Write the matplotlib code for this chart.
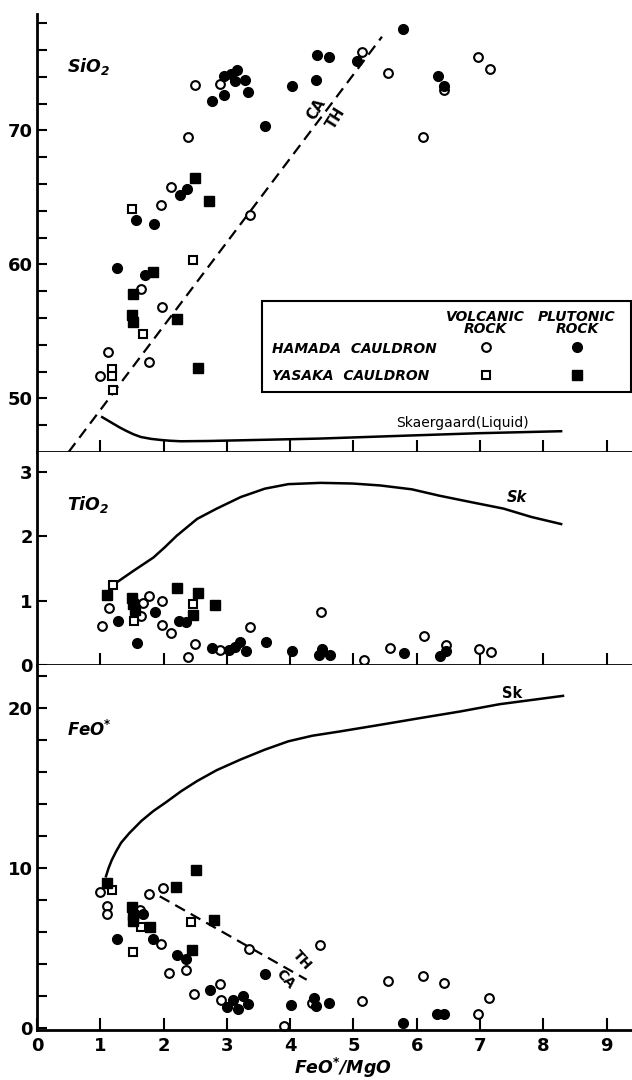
import matplotlib.pyplot as plt
from matplotlib.patches import Rectangle

plt.rcParams['font.family'] = ['DejaVu Sans']
plt.rcParams['font.weight'] = 'bold'
plt.rcParams['mathtext.default'] = 'regular'

# ---- SiO2 vs FeO*/MgO ----
sio2_hv_x = [2.50, 2.89, 2.39, 5.13, 5.55, 6.10, 6.43, 6.97, 7.15, 2.12, 1.96, 3.37,
             1.64, 1.98, 1.12, 1.77, 1.00]
sio2_hv_y = [73.4, 73.5, 69.5, 75.85, 74.3, 69.5, 73.0, 75.5, 74.6, 65.8, 64.4, 63.7,
             58.15, 56.8, 53.45, 52.75, 51.7]
sio2_hp_x = [5.79, 4.42, 4.61, 5.05, 4.41, 4.03, 3.61, 2.95, 3.06, 3.16, 3.13, 3.29,
             3.33, 2.96, 2.76, 6.33, 6.43, 2.37, 2.26, 1.56, 1.85, 1.27, 1.70]
sio2_hp_y = [77.55, 75.6, 75.5, 75.15, 73.8, 73.3, 70.3, 74.1, 74.2, 74.55, 73.7, 73.8,
             72.9, 72.65, 72.2, 74.05, 73.35, 65.6, 65.15, 63.3, 63.0, 59.75, 59.2]
sio2_yv_x = [1.50, 2.47, 1.67, 1.19, 1.19, 1.20]
sio2_yv_y = [64.15, 60.3, 54.8, 52.2, 51.7, 50.6]
sio2_yp_x = [2.49, 2.72, 1.83, 1.51, 1.50, 1.52, 2.21, 2.55]
sio2_yp_y = [66.45, 64.75, 59.4, 57.8, 56.2, 55.7, 55.9, 52.3]

sio2_sk_x = [1.03, 1.12, 1.21, 1.30, 1.40, 1.52, 1.64, 1.80, 1.95, 2.10, 2.27, 2.70,
             3.20, 4.46, 5.71, 6.97, 8.28]
sio2_sk_y = [48.6, 48.35, 48.1, 47.85, 47.6, 47.33, 47.12, 46.98, 46.9, 46.84, 46.8,
             46.82, 46.87, 47.0, 47.2, 47.4, 47.55]
sio2_div_x = [0.50, 5.45]
sio2_div_y = [46.0, 77.0]

# ---- TiO2 vs FeO*/MgO ----
tio2_hv_x = [1.13, 1.02, 1.68, 1.77, 1.65, 1.98, 1.98, 2.11, 3.37, 2.49, 2.39, 2.89,
             4.49, 5.17, 5.58, 6.12, 6.46, 6.99, 7.17]
tio2_hv_y = [0.89, 0.61, 0.96, 1.07, 0.76, 1.00, 0.62, 0.50, 0.59, 0.33, 0.12, 0.24,
             0.82, 0.07, 0.27, 0.45, 0.31, 0.25, 0.20]
tio2_hp_x = [1.28, 1.86, 1.58, 2.25, 2.36, 2.76, 3.03, 3.13, 3.21, 3.31, 3.62, 4.03,
             4.45, 4.51, 4.63, 5.80, 6.36, 6.46]
tio2_hp_y = [0.69, 0.83, 0.34, 0.68, 0.66, 0.27, 0.23, 0.28, 0.35, 0.22, 0.35, 0.22,
             0.16, 0.25, 0.16, 0.18, 0.14, 0.22]
tio2_yv_x = [1.20, 1.54, 2.47]
tio2_yv_y = [1.25, 0.69, 0.95]
tio2_yp_x = [1.11, 1.50, 1.52, 1.55, 2.21, 2.54, 2.46, 2.81]
tio2_yp_y = [1.08, 1.04, 0.95, 0.85, 1.19, 1.12, 0.78, 0.93]

tio2_sk_x = [1.20, 1.27, 1.52, 1.84, 2.02, 2.21, 2.53, 2.84, 3.22, 3.60, 3.97, 4.48,
             4.98, 5.42, 5.92, 6.36, 6.86, 7.37, 7.81, 8.28]
tio2_sk_y = [1.25, 1.29, 1.46, 1.67, 1.83, 2.01, 2.27, 2.43, 2.61, 2.74, 2.81, 2.83,
             2.82, 2.79, 2.73, 2.63, 2.53, 2.43, 2.30, 2.19]

# ---- FeO* vs FeO*/MgO ----
feo_hv_x = [1.00, 1.11, 1.10, 1.62, 1.77, 1.99, 1.96, 3.35, 2.09, 2.35, 4.47, 2.48,
            2.89, 2.91, 4.34, 3.91, 5.14, 5.55, 6.10, 6.43, 6.97, 7.14]
feo_hv_y = [8.52, 7.64, 7.13, 7.38, 8.42, 8.79, 5.25, 4.98, 3.48, 3.63, 5.19, 2.17,
            2.79, 1.75, 1.58, 0.12, 1.69, 2.94, 3.25, 2.83, 0.88, 1.92]
feo_hp_x = [1.27, 1.67, 1.84, 2.22, 2.35, 3.60, 2.73, 3.00, 3.10, 3.18, 3.26, 3.33,
            4.02, 4.37, 4.41, 4.61, 5.78, 6.32, 6.43]
feo_hp_y = [5.60, 7.17, 5.56, 4.60, 4.35, 3.37, 2.42, 1.33, 1.75, 1.23, 2.00, 1.54,
            1.46, 1.88, 1.38, 1.58, 0.33, 0.88, 0.88]
feo_yv_x = [1.19, 1.64, 2.43, 1.51]
feo_yv_y = [8.67, 6.33, 6.65, 4.77]
feo_yp_x = [1.11, 1.50, 1.51, 1.51, 1.79, 2.20, 2.52, 2.80, 2.45]
feo_yp_y = [9.08, 7.58, 7.10, 6.70, 6.33, 8.83, 9.92, 6.75, 4.88]

feo_sk_x = [1.09, 1.13, 1.18, 1.25, 1.33, 1.46, 1.65, 1.84, 2.03, 2.28, 2.53, 2.84,
            3.22, 3.60, 3.97, 4.35, 4.79, 5.42, 6.05, 6.68, 7.31, 8.31]
feo_sk_y = [9.50, 10.0, 10.5, 11.05, 11.6, 12.2, 12.96, 13.58, 14.1, 14.82, 15.45,
            16.13, 16.8, 17.41, 17.93, 18.28, 18.55, 18.96, 19.38, 19.79, 20.25, 20.77]
feo_div_x = [1.94, 4.26]
feo_div_y = [8.25, 3.04]

OPEN_C = dict(marker='o', ms=6.3, mfc='white', mec='black', mew=1.5, ls='none')
FILL_C = dict(marker='o', ms=7, mfc='black', mec='black', ls='none')
OPEN_S = dict(marker='s', ms=6, mfc='white', mec='black', mew=1.5, ls='none')
FILL_S = dict(marker='s', ms=6.5, mfc='black', mec='black', ls='none')


def style_axes(ax, ylim, yticks, labelled, xlabels=False):
    ax.set_xlim(0, 9.4)
    ax.set_ylim(*ylim)
    ax.spines['top'].set_visible(False)
    ax.spines['right'].set_visible(False)
    ax.spines['left'].set_linewidth(2)
    ax.spines['bottom'].set_linewidth(2)
    ax.set_yticks(yticks)
    ax.set_yticklabels([str(t) if t in labelled else '' for t in yticks])
    if xlabels:
        ax.set_xticks(range(0, 10))
    else:
        ax.set_xticks(range(1, 10))
        ax.set_xticklabels([])
    ax.tick_params(axis='y', direction='in', length=7, width=1.5, labelsize=13, pad=3)
    ax.tick_params(axis='x', direction='in', length=9, width=1.5, labelsize=13, pad=5)


def scatter_groups(ax, hv, hp, yv, yp):
    ax.plot(*hv, **OPEN_C)
    ax.plot(*hp, **FILL_C)
    ax.plot(*yv, **OPEN_S)
    ax.plot(*yp, **FILL_S)


fig = plt.figure(figsize=(6.32, 10.8), dpi=100)
left = 0.0585
ax_si = fig.add_axes([left, 0.5815, 1 - left, 0.4056])
ax_ti = fig.add_axes([left, 0.3843, 1 - left, 0.1972])
ax_fe = fig.add_axes([left, 0.0463, 1 - left, 0.338])

# SiO2
style_axes(ax_si, (46, 78.7), list(range(48, 79, 2)), (50, 60, 70))
ax_si.plot(sio2_div_x, sio2_div_y, 'k--', lw=1.6, dashes=(5, 3))
ax_si.plot(sio2_sk_x, sio2_sk_y, 'k-', lw=1.8)
scatter_groups(ax_si, (sio2_hv_x, sio2_hv_y), (sio2_hp_x, sio2_hp_y),
               (sio2_yv_x, sio2_yv_y), (sio2_yp_x, sio2_yp_y))
ax_si.text(0.47, 74.8, 'SiO$_2$', style='italic', fontsize=12.5, va='center')
ax_si.text(4.42, 71.6, 'CA', rotation=58, fontsize=10.5, ha='center', va='center')
ax_si.text(4.72, 70.9, 'TH', rotation=58, fontsize=10.5, ha='center', va='center')
ax_si.text(6.72, 48.15, 'Skaergaard(Liquid)', fontsize=10, weight='normal',
           ha='center', va='center')

# legend box
ax_si.add_patch(Rectangle((3.56, 50.45), 5.82, 6.85, fill=False, lw=1.5,
                          ec='black', clip_on=False))
leg_font = dict(style='italic', fontsize=10, va='center')
ax_si.text(7.09, 56.1, 'VOLCANIC', ha='center', **leg_font)
ax_si.text(7.09, 55.15, 'ROCK', ha='center', **leg_font)
ax_si.text(8.53, 56.1, 'PLUTONIC', ha='center', **leg_font)
ax_si.text(8.53, 55.15, 'ROCK', ha='center', **leg_font)
ax_si.text(3.72, 53.7, 'HAMADA  CAULDRON', ha='left', **leg_font)
ax_si.text(3.72, 51.7, 'YASAKA  CAULDRON', ha='left', **leg_font)
ax_si.plot([7.09], [53.85], **OPEN_C)
ax_si.plot([8.53], [53.85], **FILL_C)
ax_si.plot([7.09], [51.75], **OPEN_S)
ax_si.plot([8.53], [51.75], **FILL_S)

# TiO2
style_axes(ax_ti, (0, 3.31), [0, 1, 2, 3], (0, 1, 2, 3))
ax_ti.plot(tio2_sk_x, tio2_sk_y, 'k-', lw=1.8)
scatter_groups(ax_ti, (tio2_hv_x, tio2_hv_y), (tio2_hp_x, tio2_hp_y),
               (tio2_yv_x, tio2_yv_y), (tio2_yp_x, tio2_yp_y))
for a in ax_ti.lines:
    a.set_clip_on(False)
ax_ti.text(0.47, 2.5, 'TiO$_2$', style='italic', fontsize=12.5, va='center')
ax_ti.text(7.58, 2.6, 'Sk', style='italic', fontsize=10.5, ha='center', va='center')

# FeO*
style_axes(ax_fe, (-0.1, 22.7), list(range(0, 23, 2)), (0, 10, 20), xlabels=True)
ax_fe.plot(feo_sk_x, feo_sk_y, 'k-', lw=1.8)
ax_fe.plot(feo_div_x, feo_div_y, 'k--', lw=1.6, dashes=(5, 3))
scatter_groups(ax_fe, (feo_hv_x, feo_hv_y), (feo_hp_x, feo_hp_y),
               (feo_yv_x, feo_yv_y), (feo_yp_x, feo_yp_y))
for a in ax_fe.lines:
    a.set_clip_on(False)
ax_fe.text(0.47, 18.65, 'FeO$^{*}$', style='italic', fontsize=12, va='center')
ax_fe.text(7.5, 20.9, 'Sk', fontsize=10.5, ha='center', va='center')
ax_fe.text(4.18, 4.25, 'TH', rotation=-48, fontsize=10, ha='center', va='center')
ax_fe.text(3.92, 3.05, 'CA', rotation=-48, fontsize=10, ha='center', va='center')

fig.text(343 / 632, 1 - 1068 / 1080, 'FeO$^{*}$/MgO', style='italic', fontsize=12.5,
         ha='center', va='center')

fig.savefig('out.png', dpi=100)
